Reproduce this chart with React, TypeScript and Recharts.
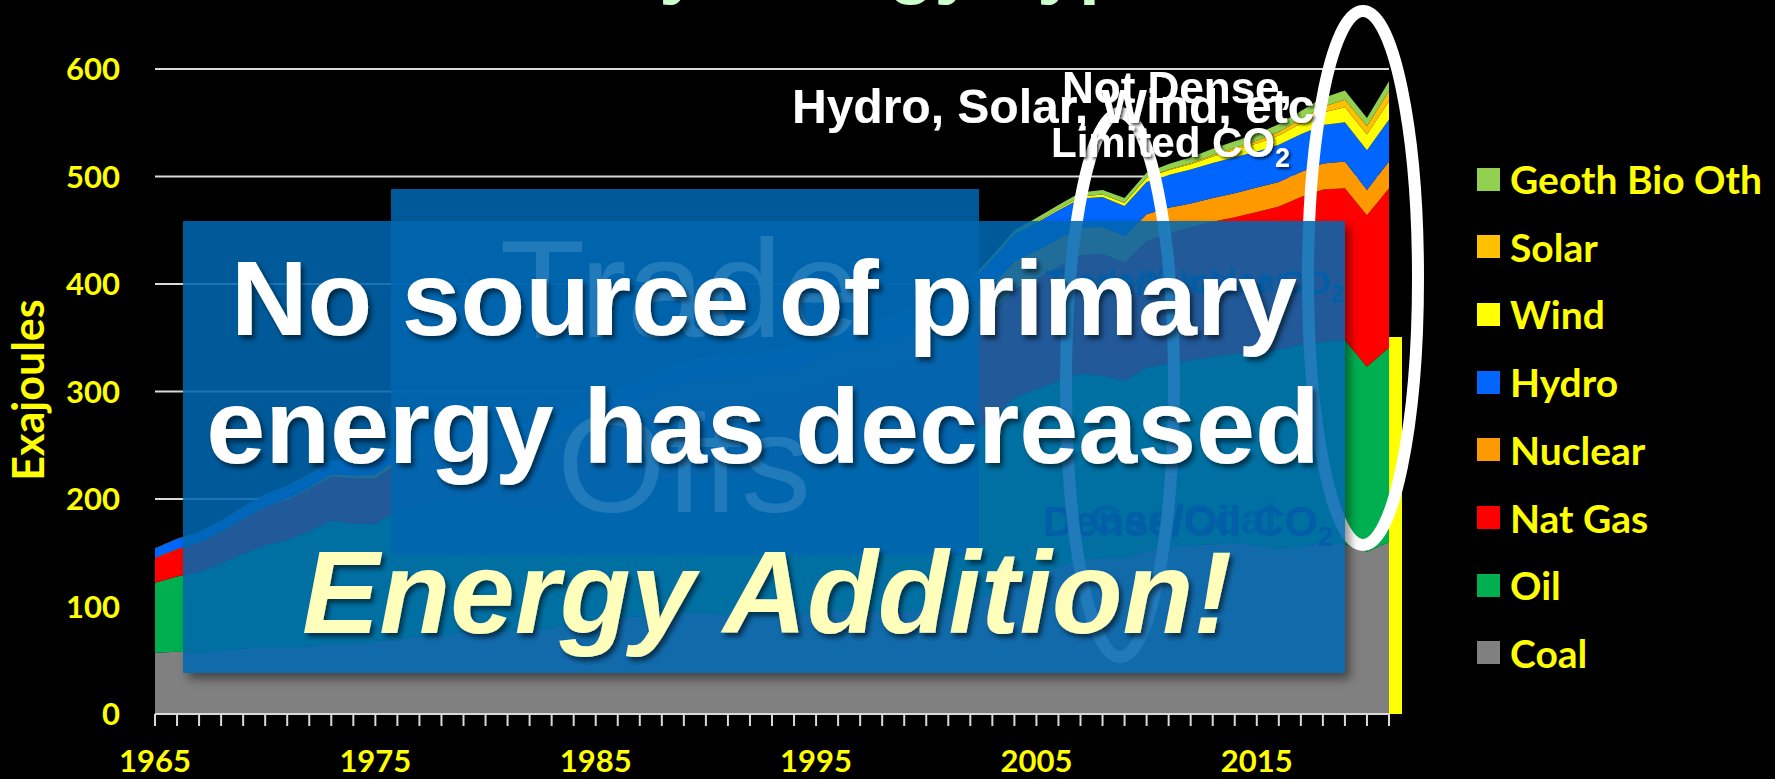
import { Area, AreaChart, CartesianGrid, XAxis, YAxis } from "recharts";

// World primary energy by source, exajoules, 1965-2021
const years = [
  1965, 1966, 1967, 1968, 1969, 1970, 1971, 1972, 1973, 1974,
  1975, 1976, 1977, 1978, 1979, 1980, 1981, 1982, 1983, 1984,
  1985, 1986, 1987, 1988, 1989, 1990, 1991, 1992, 1993, 1994,
  1995, 1996, 1997, 1998, 1999, 2000, 2001, 2002, 2003, 2004,
  2005, 2006, 2007, 2008, 2009, 2010, 2011, 2012, 2013, 2014,
  2015, 2016, 2017, 2018, 2019, 2020, 2021,
];

const coal = [
  57, 58, 57, 59, 61, 62, 62, 63, 65, 65,
  67, 70, 72, 73, 76, 76, 77, 78, 80, 84,
  87, 89, 91, 93, 94, 94, 92, 92, 92, 93,
  95, 96, 96, 95, 95, 98, 99, 104, 113, 124,
  130, 137, 144, 145, 145, 152, 156, 157, 158, 159,
  157, 154, 156, 159, 158, 151, 160,
];

const oil = [
  65, 70, 75, 81, 88, 95, 100, 107, 115, 112,
  110, 119, 123, 127, 128, 122, 117, 114, 113, 115,
  115, 118, 120, 124, 126, 127, 127, 128, 128, 130,
  134, 138, 142, 143, 147, 150, 152, 156, 163, 170,
  172, 173, 173, 170, 165, 170, 170, 172, 174, 176,
  180, 185, 188, 187, 190, 172, 181,
];

const natGas = [
  23, 25, 27, 29, 32, 35, 37, 39, 41, 42,
  42, 44, 45, 47, 50, 51, 51, 52, 53, 57,
  59, 60, 63, 66, 69, 71, 73, 73, 74, 75,
  77, 80, 80, 82, 84, 87, 88, 93, 98, 101,
  103, 106, 110, 113, 110, 118, 121, 124, 126, 127,
  130, 133, 137, 142, 141, 141, 148,
];

const nuclear = [
  0.3, 0.4, 0.5, 0.6, 0.7, 0.9, 1.3, 1.7, 2.2, 2.8,
  3.8, 4.4, 5.3, 6.2, 6.5, 7.2, 8.3, 9.0, 10.3, 12.4,
  14.4, 15.4, 16.6, 17.9, 18.4, 19.1, 20.0, 20.2, 20.8, 21.3,
  22.0, 22.8, 22.6, 23.0, 23.9, 24.5, 25.0, 25.2, 25.0, 26.0,
  26.0, 26.0, 25.5, 25.0, 24.5, 25.0, 24.0, 22.0, 22.0, 22.5,
  22.7, 23.0, 23.2, 24.0, 25.0, 23.5, 25.0,
];

const hydro = [
  8.7, 9.3, 9.5, 10.0, 10.6, 11.1, 11.6, 12.1, 12.3, 13.5,
  13.6, 13.8, 14.1, 15.1, 15.7, 16.0, 16.2, 16.6, 17.3, 17.8,
  18.1, 18.3, 18.4, 18.9, 18.8, 19.5, 20.0, 20.0, 21.0, 21.2,
  22.1, 22.4, 22.8, 22.8, 23.0, 23.5, 23.2, 23.5, 24.0, 25.0,
  26.0, 26.5, 27.0, 28.0, 28.0, 30.0, 30.5, 31.5, 32.5, 33.5,
  33.5, 34.5, 35.0, 36.0, 36.5, 37.0, 39.0,
];

const wind = [
  0, 0, 0, 0, 0, 0, 0, 0, 0, 0,
  0, 0, 0, 0, 0, 0, 0, 0, 0, 0,
  0, 0, 0, 0, 0, 0.02, 0.03, 0.03, 0.04, 0.05,
  0.07, 0.08, 0.1, 0.13, 0.17, 0.3, 0.4, 0.5, 0.6, 0.8,
  1.0, 1.3, 1.7, 2.2, 2.8, 3.5, 4.3, 5.0, 5.9, 6.6,
  7.6, 8.7, 10.0, 11.5, 14.0, 14.5, 17.0,
];

const solar = [
  0, 0, 0, 0, 0, 0, 0, 0, 0, 0,
  0, 0, 0, 0, 0, 0, 0, 0, 0, 0,
  0, 0, 0, 0, 0, 0, 0, 0, 0, 0,
  0, 0, 0, 0, 0, 0, 0, 0, 0, 0,
  0, 0, 0.1, 0.1, 0.2, 0.3, 0.6, 0.9, 1.3, 1.8,
  2.4, 3.1, 4.2, 5.5, 7.0, 8.0, 9.5,
];

const geothBioOth = [
  0.3, 0.3, 0.3, 0.3, 0.4, 0.4, 0.4, 0.4, 0.4, 0.5,
  0.5, 0.5, 0.6, 0.6, 0.6, 0.7, 0.7, 0.8, 0.8, 0.9,
  1.0, 1.0, 1.1, 1.2, 1.3, 1.4, 1.4, 1.5, 1.5, 1.6,
  1.8, 1.8, 1.9, 2.0, 2.1, 2.3, 2.3, 2.6, 3.0, 3.2,
  3.4, 3.6, 3.9, 4.1, 4.4, 4.8, 5.2, 5.6, 6.0, 6.4,
  6.8, 7.2, 7.6, 8.0, 8.5, 7.5, 9.0,
];

const yTicks = [0, 100, 200, 300, 400, 500, 600];

// bottom of the stack first
const series = [
  { key: "coal", label: "Coal", color: "#808080" },
  { key: "oil", label: "Oil", color: "#00B050" },
  { key: "natGas", label: "Nat Gas", color: "#FF0000" },
  { key: "nuclear", label: "Nuclear", color: "#FF9900" },
  { key: "hydro", label: "Hydro", color: "#0066FF" },
  { key: "wind", label: "Wind", color: "#FFFF00" },
  { key: "solar", label: "Solar", color: "#FFC000" },
  { key: "geothBioOth", label: "Geoth Bio Oth", color: "#92D050" },
];

const data = years.map((year, i) => ({
  year,
  coal: coal[i],
  oil: oil[i],
  natGas: natGas[i],
  nuclear: nuclear[i],
  hydro: hydro[i],
  wind: wind[i],
  solar: solar[i],
  geothBioOth: geothBioOth[i],
}));

const tickFont = { fill: "#FFFF00", fontSize: 31, fontFamily: "Lato", fontWeight: 700 };
const boxFill = "rgba(0, 102, 176, 0.87)";
const arial = "'Liberation Sans', Arial, sans-serif";

export default function App() {
  return (
    <div
      style={{
        position: "absolute",
        left: 0,
        top: 0,
        width: 1775,
        height: 779,
        background: "#000",
        overflow: "hidden",
      }}
    >
      <div style={{ position: "absolute", left: 0, top: 0 }}>
        <AreaChart width={1775} height={779} data={data} margin={{ top: 69, right: 386, bottom: 5, left: 95 }}>
          <CartesianGrid vertical={false} stroke="#D9D9D9" strokeWidth={2} />
          <XAxis
            dataKey="year"
            interval={0}
            height={60}
            tickFormatter={(v) => ((Number(v) - 1965) % 10 === 0 ? String(v) : "")}
            tick={tickFont}
            tickSize={12}
            tickMargin={24}
            tickLine={{ stroke: "#D9D9D9", strokeWidth: 2 }}
            axisLine={{ stroke: "#D9D9D9", strokeWidth: 2 }}
          />
          <YAxis
            domain={[0, 600]}
            ticks={yTicks}
            width={60}
            tick={tickFont}
            tickSize={0}
            tickMargin={35}
            axisLine={false}
            tickLine={false}
          />
          {series.map((s) => (
            <Area
              key={s.key}
              type="linear"
              dataKey={s.key}
              stackId="energy"
              fill={s.color}
              fillOpacity={1}
              stroke="none"
              dot={false}
              activeDot={false}
              isAnimationActive={false}
            />
          ))}
        </AreaChart>
      </div>

      {/* annotations that sit under the translucent boxes */}
      <svg width={1775} height={779} style={{ position: "absolute", left: 0, top: 0 }}>
        <defs>
          <filter id="lblShadow" x="-10%" y="-30%" width="120%" height="160%">
            <feDropShadow dx={2} dy={2} stdDeviation={1.5} floodColor="#000" floodOpacity={0.7} />
          </filter>
        </defs>
        <text x={890} y={-10} textAnchor="middle" fontFamily={arial} fontWeight={700} fontSize={75} fill="#CCFFCC">
          by Energy Type
        </text>
        <rect x={1389} y={337} width={13} height={377} fill="#FFFF00" />
        <text
          x={27}
          y={390}
          transform="rotate(-90 27 390)"
          textAnchor="middle"
          dominantBaseline="central"
          fontFamily="Lato"
          fontWeight={700}
          fontSize={43}
          fill="#FFFF00"
        >
          Exajoules
        </text>

        <g fontFamily={arial} fontWeight={700} fill="#0A2A6A">
          <text x={1045} y={294} fontSize={34}>Trade/Nuclear CO<tspan fontSize={24} dy={8}>2</tspan></text>
          <text x={1052} y={292} fontSize={34} opacity={0.7}>Dense/Nuclear</text>
          <text x={1043} y={536} fontSize={43}>Dense/Oil CO<tspan fontSize={28} dy={10}>2</tspan></text>
          <text x={1090} y={534} fontSize={43} opacity={0.7}>Gas/Coal</text>
        </g>

        <ellipse cx={1120} cy={385} rx={54} ry={272} fill="none" stroke="#FFFFFF" strokeWidth={12} />
        <ellipse cx={1363} cy={278} rx={55} ry={267} fill="none" stroke="#FFFFFF" strokeWidth={12} />

        <g fontFamily={arial} fontWeight={700} fill="#FFFFFF" filter="url(#lblShadow)">
          <text x={792} y={123} fontSize={48}>Hydro, Solar, Wind, etc</text>
          <text x={1062} y={103} fontSize={44}>Not Dense,</text>
          <text x={1051} y={157} fontSize={42}>
            Limited CO<tspan fontSize={27} dy={10}>2</tspan>
          </text>
        </g>
      </svg>

      {/* the "Trade Offs" box, covered by the main box */}
      <div style={{ position: "absolute", left: 391, top: 189, width: 588, height: 366, background: boxFill }} />
      <svg width={1775} height={779} style={{ position: "absolute", left: 0, top: 0 }}>
        <g fontFamily={arial} fontSize={140} fill="#FFFFFF" textAnchor="middle">
          <text x={680} y={337}>Trade</text>
          <text x={684} y={512}>Offs</text>
        </g>
      </svg>

      {/* main message box */}
      <div
        style={{
          position: "absolute",
          left: 183,
          top: 221,
          width: 1162,
          height: 452,
          background: boxFill,
          boxShadow: "5px 6px 9px rgba(0,0,0,0.45)",
        }}
      />
      <svg width={1775} height={779} style={{ position: "absolute", left: 0, top: 0 }}>
        <defs>
          <filter id="bigShadow" x="-5%" y="-20%" width="110%" height="140%">
            <feDropShadow dx={3} dy={4} stdDeviation={2.5} floodColor="#000" floodOpacity={0.55} />
          </filter>
        </defs>
        <g fontFamily={arial} fontWeight={700} textAnchor="middle" filter="url(#bigShadow)">
          <text x={764} y={335} fontSize={106} fill="#FFFFFF">No source of primary</text>
          <text x={763} y={463} fontSize={106} fill="#FFFFFF">energy has decreased</text>
          <text x={767} y={633} fontSize={116} fontStyle="italic" fill="#FFFFBB">Energy Addition!</text>
        </g>
      </svg>

      {/* legend, top of stack first */}
      <div style={{ position: "absolute", left: 1477, top: 0 }}>
        {[...series].reverse().map((s, i) => (
          <div
            key={s.key}
            style={{
              position: "absolute",
              left: 0,
              top: 179 + i * 67.7 - 24,
              height: 48,
              display: "flex",
              alignItems: "center",
              whiteSpace: "nowrap",
            }}
          >
            <span style={{ width: 23, height: 23, background: s.color, display: "inline-block" }} />
            <span
              style={{
                marginLeft: 10,
                color: "#FFFF00",
                fontFamily: "Lato",
                fontWeight: 700,
                fontSize: 39,
                lineHeight: "48px",
              }}
            >
              {s.label}
            </span>
          </div>
        ))}
      </div>
    </div>
  );
}
